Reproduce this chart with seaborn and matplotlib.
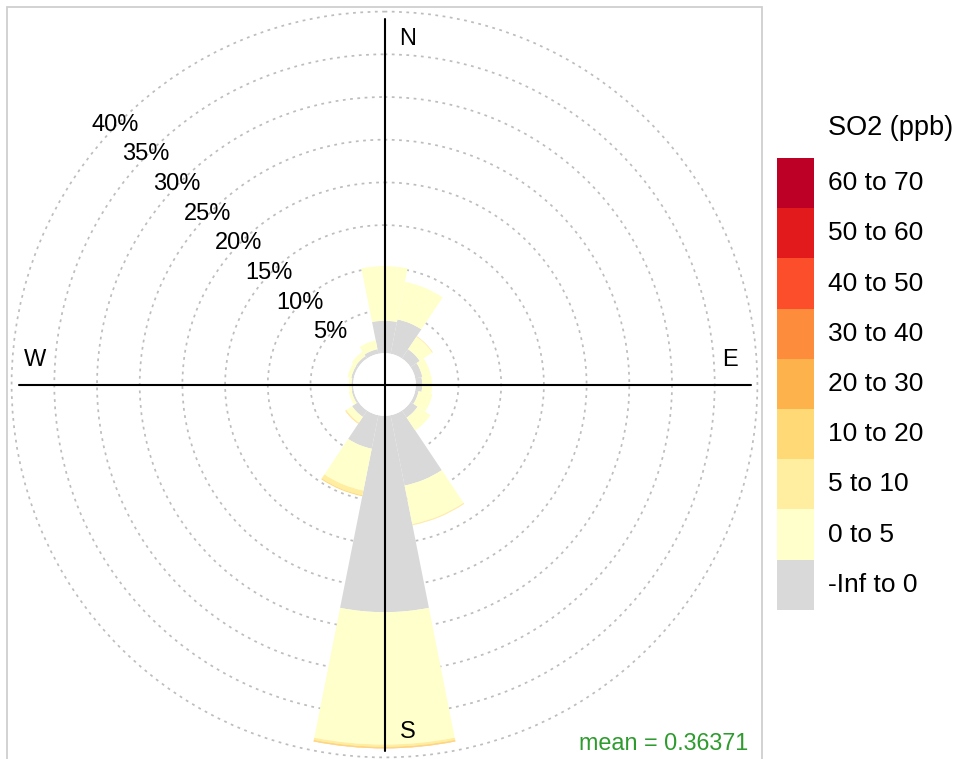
import numpy as np
import matplotlib
matplotlib.use("Agg")
import matplotlib.pyplot as plt
from matplotlib.patches import Rectangle
import seaborn as sns

# ---------------- data (percent of time, per wind sector) ----------------
directions = ["N", "NNE", "NE", "ENE", "E", "ESE", "SE", "SSE",
              "S", "SSW", "SW", "WSW", "W", "WNW", "NW", "NNW"]
dir_deg = [0, 22.5, 45, 67.5, 90, 112.5, 135, 157.5,
           180, 202.5, 225, 247.5, 270, 292.5, 315, 337.5]

so2_neg   = [3.8, 4.1, 1.3, 0.85, 0.75, 0.4, 1.0, 8.4, 23.0, 4.0, 0.9, 0.25, 0.2, 0.3, 0.35, 0.55]
so2_0_5   = [6.4, 4.5, 1.75, 1.0, 1.15, 1.65, 1.8, 4.6, 15.5, 5.0, 0.8, 0.35, 0.3, 0.45, 0.6, 1.05]
so2_5_10  = [0.0, 0.0, 0.05, 0.0, 0.0, 0.0, 0.0, 0.1, 0.25, 0.55, 0.1, 0.0, 0.0, 0.0, 0.0, 0.0]
so2_10_20 = [0.0, 0.0, 0.03, 0.0, 0.0, 0.0, 0.0, 0.03, 0.15, 0.12, 0.06, 0.0, 0.0, 0.0, 0.0, 0.0]
so2_20_30 = [0.0, 0.0, 0.0, 0.0, 0.0, 0.0, 0.0, 0.0, 0.05, 0.0, 0.0, 0.0, 0.0, 0.0, 0.0, 0.0]

bands = [so2_neg, so2_0_5, so2_5_10, so2_10_20, so2_20_30]

legend_labels = ["-Inf to 0", "0 to 5", "5 to 10", "10 to 20", "20 to 30",
                 "30 to 40", "40 to 50", "50 to 60", "60 to 70"]
legend_colors = ["#D9D9D9", "#FFFFCC", "#FFEDA0", "#FED976", "#FEB24C",
                 "#FD8D3C", "#FC4E2A", "#E31A1C", "#BD0026"]

grid_pct = [5, 10, 15, 20, 25, 30, 35, 40]
compass = ["N", "E", "S", "W"]
mean_value = 0.36371
legend_title = "SO2 (ppb)"

# ---------------- style ----------------
sns.set_theme(style="white")
plt.rcParams['font.family'] = ['Liberation Sans', 'DejaVu Sans']
plt.rcParams['text.color'] = 'black'

W, H = 957, 759
fig = plt.figure(figsize=(W / 100, H / 100), dpi=100)
fig.patch.set_facecolor("white")

# panel square (pixels): left 7, top 7, size 755
pl, pt, ps = 7, 7, 755
rect = [pl / W, (H - pt - ps) / H, ps / W, ps / H]
ax = fig.add_axes(rect, projection="polar")
ax.set_theta_zero_location("N")
ax.set_theta_direction(-1)

r_origin = -3.665
r_max = 40.54
ax.set_ylim(0, r_max)
ax.set_rorigin(r_origin)

theta = np.deg2rad(dir_deg)
width = np.deg2rad(22.5)
bottom = np.zeros(len(dir_deg))
for vals, col in zip(bands, legend_colors):
    vals = np.asarray(vals, dtype=float)
    ax.bar(theta, vals, width=width, bottom=bottom, color=col,
           linewidth=0, align="center", zorder=2)
    bottom += vals

ax.set_xticks([])
ax.set_rticks(grid_pct)
ax.set_yticklabels([])
ax.xaxis.grid(False)
ax.yaxis.grid(True, color="#BDBDBD", linestyle=(0, (1.6, 2.6)), linewidth=1.25)
ax.set_axisbelow(True)
for name in list(ax.spines.keys()):
    ax.spines[name].set_visible(False)
    ax.spines[name].set_linewidth(0)
ax.patch.set_alpha(0)

# percentage labels on the circles
for p in grid_pct:
    ax.text(np.deg2rad(-46), p + 0.15, f"{p}%", ha="center", va="center",
            fontsize=17, color="black", zorder=4, clip_on=False)

# overlay axes (same square) for the compass cross and labels
ov = fig.add_axes(rect, facecolor="none")
ov.set_xlim(-1, 1)
ov.set_ylim(-1, 1)
ov.axis("off")
half = 366 / 377.5
ov.plot([-half, half], [0, 0], color="black", linewidth=1.5, zorder=5)
ov.plot([0, 0], [-half, half], color="black", linewidth=1.5, zorder=5)
lab_pos = {"N": (0.061, 0.916), "E": (0.915, 0.065), "S": (0.062, -0.921), "W": (-0.926, 0.065)}
for c in compass:
    x, y = lab_pos[c]
    ov.text(x, y, c, ha="center", va="center", fontsize=17, color="black")

# panel border
fig.add_artist(Rectangle((pl / W, (H - pt - ps) / H), ps / W, ps / H,
                         transform=fig.transFigure, fill=False,
                         edgecolor="#CFCFCF", linewidth=1.3))

# mean annotation
fig.text(748 / W, 1 - 744 / H, f"mean = {mean_value}", ha="right", va="center",
         color="#2E9B2E", fontsize=16.8)

# legend (keys)
box_x, box_w = 777, 37
box_top, box_h = 158, 50.2
fig.text(828 / W, 1 - 128 / H, legend_title, ha="left", va="center", fontsize=19.5)
for i, (lab, col) in enumerate(zip(legend_labels[::-1], legend_colors[::-1])):
    y0 = box_top + i * box_h
    fig.add_artist(Rectangle((box_x / W, 1 - (y0 + box_h) / H), box_w / W, box_h / H,
                             transform=fig.transFigure, facecolor=col,
                             edgecolor="none", linewidth=0))
    fig.text(828 / W, 1 - (y0 + box_h / 2) / H, lab, ha="left", va="center",
             fontsize=19)

fig.savefig("out.png", dpi=100)
